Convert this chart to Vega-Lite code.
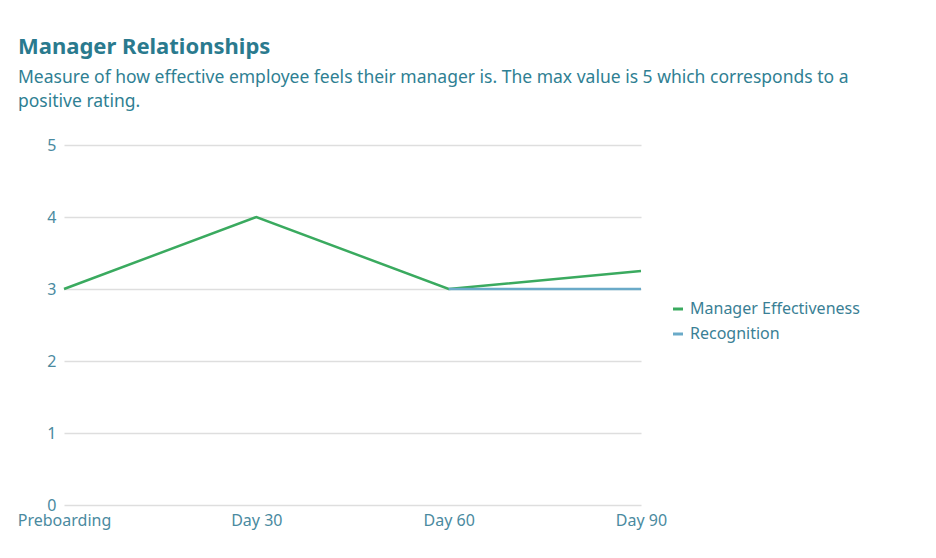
{
  "$schema": "https://vega.github.io/schema/vega-lite/v6.json",
  "autosize": {"type": "none"},
  "width": 577,
  "height": 360,
  "padding": {"left": 64, "top": 145, "right": 295, "bottom": 53},
  "background": "white",
  "title": {
    "text": "Manager Relationships",
    "subtitle": ["Measure of how effective employee feels their manager is. The max value is 5 which corresponds to a", "positive rating."],
    "anchor": "start",
    "frame": "group",
    "dx": -46,
    "font": "Noto Sans",
    "fontSize": 22,
    "fontWeight": "bold",
    "color": "#2a7a8e",
    "subtitleFont": "Noto Sans",
    "subtitleFontSize": 17.5,
    "subtitleColor": "#2f7f93",
    "subtitleLineHeight": 24,
    "subtitlePadding": 10,
    "offset": 26
  },
  "data": {
    "values": [
      {"stage": "Preboarding", "idx": 0, "series": "Manager Effectiveness", "value": 3},
      {"stage": "Day 30", "idx": 1, "series": "Manager Effectiveness", "value": 4},
      {"stage": "Day 60", "idx": 2, "series": "Manager Effectiveness", "value": 3},
      {"stage": "Day 90", "idx": 3, "series": "Manager Effectiveness", "value": 3.25},
      {"stage": "Day 60", "idx": 2, "series": "Recognition", "value": 3},
      {"stage": "Day 90", "idx": 3, "series": "Recognition", "value": 3}
    ]
  },
  "mark": {"type": "line", "strokeWidth": 2.5},
  "encoding": {
    "x": {
      "field": "stage",
      "type": "ordinal",
      "sort": ["Preboarding", "Day 30", "Day 60", "Day 90"],
      "scale": {"type": "point", "padding": 0},
      "axis": {"title": null, "labelAngle": 0, "ticks": false, "domain": false, "grid": false, "labelPadding": 7}
    },
    "y": {
      "field": "value",
      "type": "quantitative",
      "scale": {"domain": [0, 5]},
      "axis": {"title": null, "values": [0, 1, 2, 3, 4, 5], "ticks": false, "domain": false, "labelPadding": 8, "gridColor": "#dedede", "gridWidth": 1.5}
    },
    "color": {
      "field": "series",
      "type": "nominal",
      "scale": {"domain": ["Manager Effectiveness", "Recognition"], "range": ["#3aaa5f", "#6aaac8"]},
      "legend": {
        "title": null,
        "orient": "none",
        "legendX": 606,
        "legendY": 156,
        "symbolType": "stroke",
        "symbolStrokeWidth": 3,
        "symbolSize": 100,
        "labelFont": "Noto Sans",
        "labelFontSize": 16,
        "labelColor": "#3a7f95",
        "labelLimit": 300,
        "rowPadding": 9
      }
    },
    "order": {"field": "idx", "type": "quantitative"}
  },
  "config": {
    "view": {"stroke": null},
    "axis": {"labelFont": "Noto Sans", "labelFontSize": 16, "labelColor": "#4a8aa0"}
  }
}
